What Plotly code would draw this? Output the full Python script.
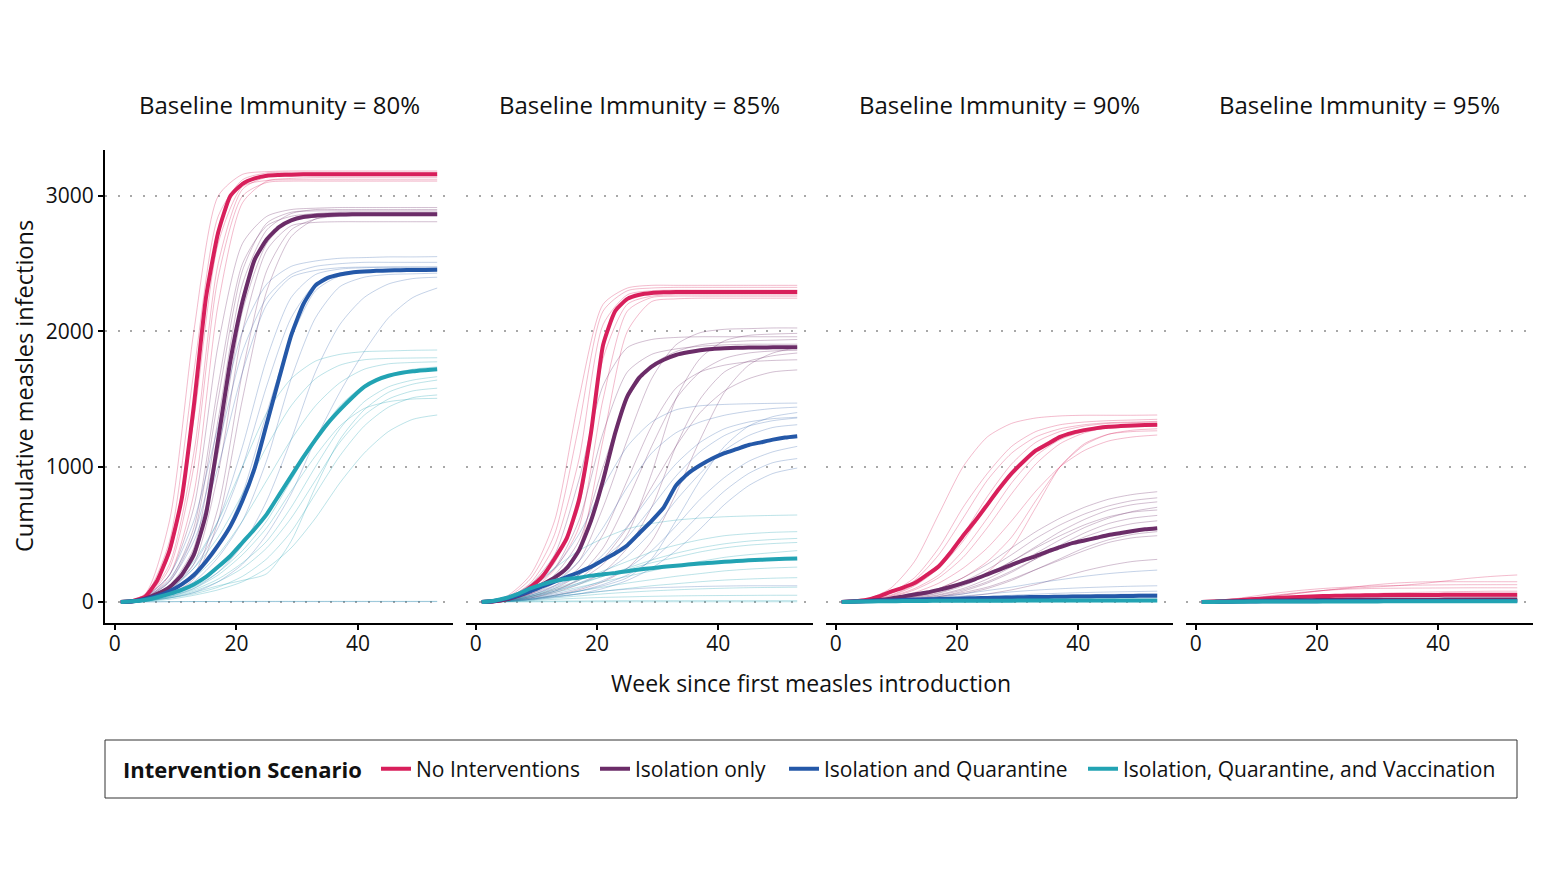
import plotly.graph_objects as go

# week grids (medians every 2 weeks, single runs every 4 weeks)
WEEKS_MED = list(range(1, 54, 2))
WEEKS_SIM = list(range(1, 54, 4))

PANELS = ["80%", "85%", "90%", "95%"]
SCENARIOS = ["No Interventions", "Isolation only", "Isolation and Quarantine",
             "Isolation, Quarantine, and Vaccination"]
COLORS = ["#D81F5B", "#6B2C68", "#2458A8", "#22A3B3"]
THIN = ["rgba(216,31,91,0.3)", "rgba(107,44,104,0.3)", "rgba(36,88,168,0.27)", "rgba(34,163,179,0.3)"]

# ---------- baseline immunity 80% ----------
med_80_none = [0, 8, 40, 160, 380, 760, 1450, 2250, 2730, 3000, 3090, 3130, 3150, 3155, 3158,
               3160, 3160, 3160, 3160, 3160, 3160, 3160, 3160, 3160, 3160, 3160, 3160]
med_80_iso = [0, 5, 25, 60, 110, 200, 350, 650, 1200, 1780, 2220, 2530, 2680, 2770, 2820, 2845,
              2855, 2860, 2863, 2865, 2865, 2865, 2865, 2865, 2865, 2865, 2865]
med_80_quar = [0, 5, 20, 45, 80, 130, 200, 300, 420, 560, 750, 990, 1320, 1650, 1970, 2200, 2340,
               2395, 2420, 2435, 2442, 2447, 2450, 2452, 2453, 2454, 2455]
med_80_vacc = [0, 5, 15, 35, 60, 90, 130, 185, 260, 340, 440, 540, 650, 790, 930, 1070, 1200, 1320,
               1420, 1510, 1590, 1640, 1672, 1692, 1705, 1713, 1720]

sims_80_none = [
    [0, 60, 600, 2000, 3000, 3160, 3180, 3185, 3185, 3185, 3185, 3185, 3185, 3185],
    [0, 30, 280, 1100, 2500, 3050, 3140, 3150, 3150, 3150, 3150, 3150, 3150, 3150],
    [0, 20, 200, 800, 2200, 2950, 3110, 3130, 3135, 3135, 3135, 3135, 3135, 3135],
    [0, 50, 450, 1700, 2850, 3120, 3170, 3175, 3175, 3175, 3175, 3175, 3175, 3175],
    [0, 35, 350, 1350, 2650, 3070, 3115, 3120, 3120, 3120, 3120, 3120, 3120, 3120],
    [0, 25, 250, 1000, 2400, 3000, 3100, 3110, 3110, 3110, 3110, 3110, 3110, 3110],
]
sims_80_iso = [
    [0, 40, 200, 700, 1900, 2650, 2850, 2900, 2910, 2915, 2915, 2915, 2915, 2915],
    [0, 30, 150, 500, 1500, 2450, 2800, 2880, 2890, 2890, 2890, 2890, 2890, 2890],
    [0, 20, 90, 280, 950, 2000, 2600, 2780, 2805, 2810, 2810, 2810, 2810, 2810],
    [0, 15, 70, 200, 700, 1700, 2450, 2750, 2830, 2850, 2855, 2855, 2855, 2855],
    [0, 35, 160, 550, 1600, 2500, 2780, 2850, 2870, 2870, 2870, 2870, 2870, 2870],
    [0, 20, 100, 320, 1100, 2150, 2650, 2830, 2870, 2880, 2880, 2880, 2880, 2880],
    [0, 25, 120, 400, 1350, 2350, 2750, 2870, 2900, 2900, 2900, 2900, 2900, 2900],
    [0, 10, 60, 170, 600, 1500, 2300, 2700, 2830, 2860, 2865, 2865, 2865, 2865],
]
sims_80_quar = [
    [0, 40, 200, 600, 1300, 2000, 2350, 2480, 2520, 2540, 2545, 2550, 2550, 2552],
    [0, 30, 150, 450, 1000, 1700, 2200, 2400, 2450, 2470, 2475, 2475, 2475, 2475],
    [0, 25, 100, 280, 600, 1150, 1800, 2250, 2420, 2460, 2470, 2475, 2475, 2475],
    [0, 15, 60, 150, 330, 600, 1050, 1650, 2100, 2330, 2400, 2420, 2425, 2430],
    [0, 10, 40, 100, 220, 420, 750, 1200, 1700, 2050, 2250, 2350, 2390, 2400],
    [0, 10, 30, 70, 150, 280, 500, 800, 1200, 1550, 1850, 2100, 2250, 2320],
    [0, 20, 90, 250, 550, 1000, 1600, 2100, 2350, 2430, 2450, 2460, 2460, 2460],
    [0, 35, 170, 500, 1150, 1850, 2250, 2420, 2480, 2500, 2510, 2510, 2510, 2510],
    [0, 20, 70, 180, 400, 800, 1400, 1950, 2300, 2410, 2440, 2450, 2450, 2450],
    [0, 1, 2, 3, 3, 3, 3, 3, 3, 3, 3, 3, 3, 3],
]
sims_80_vacc = [
    [0, 30, 120, 300, 600, 1000, 1400, 1650, 1780, 1830, 1850, 1855, 1860, 1862],
    [0, 25, 100, 250, 480, 800, 1150, 1450, 1650, 1750, 1790, 1800, 1803, 1805],
    [0, 20, 80, 180, 350, 600, 900, 1200, 1450, 1620, 1720, 1760, 1770, 1775],
    [0, 15, 50, 110, 220, 380, 600, 900, 1200, 1450, 1600, 1680, 1720, 1737],
    [0, 10, 40, 90, 170, 290, 450, 700, 1000, 1280, 1480, 1590, 1640, 1665],
    [0, 5, 30, 70, 120, 160, 210, 450, 850, 1200, 1420, 1550, 1610, 1640],
    [0, 10, 35, 80, 150, 250, 400, 620, 900, 1180, 1380, 1500, 1560, 1580],
    [0, 8, 30, 60, 110, 190, 320, 520, 800, 1080, 1300, 1440, 1510, 1530],
    [0, 5, 20, 50, 90, 150, 250, 400, 620, 880, 1100, 1260, 1350, 1382],
    [0, 12, 45, 100, 200, 350, 550, 820, 1080, 1300, 1430, 1480, 1500, 1505],
    [0, 2, 3, 4, 4, 5, 5, 5, 5, 5, 5, 5, 5, 5],
]

# ---------- baseline immunity 85% ----------
med_85_none = [0, 5, 20, 50, 110, 190, 320, 470, 750, 1250, 1900, 2150, 2240, 2270, 2283, 2288,
               2290, 2291, 2291, 2291, 2291, 2291, 2291, 2291, 2291, 2291, 2291]
med_85_iso = [0, 5, 20, 45, 80, 130, 180, 250, 380, 600, 900, 1250, 1520, 1660, 1740, 1790, 1825,
              1845, 1860, 1870, 1875, 1878, 1880, 1881, 1882, 1882, 1882]
med_85_quar = [0, 8, 25, 50, 80, 115, 150, 185, 220, 260, 310, 360, 420, 510, 600, 700, 860, 950,
               1010, 1060, 1100, 1130, 1160, 1180, 1200, 1215, 1225]
med_85_vacc = [0, 10, 30, 60, 100, 130, 155, 170, 180, 195, 205, 215, 228, 240, 250, 260, 268, 277,
               285, 290, 297, 303, 308, 312, 316, 319, 322]

sims_85_none = [
    [0, 40, 200, 600, 1500, 2200, 2320, 2340, 2340, 2340, 2340, 2340, 2340, 2340],
    [0, 25, 140, 420, 1050, 2050, 2270, 2300, 2305, 2305, 2305, 2305, 2305, 2305],
    [0, 15, 80, 240, 550, 1500, 2150, 2250, 2260, 2260, 2260, 2260, 2260, 2260],
    [0, 10, 60, 170, 400, 1200, 2000, 2220, 2240, 2245, 2245, 2245, 2245, 2245],
    [0, 30, 170, 500, 1300, 2150, 2300, 2320, 2325, 2325, 2325, 2325, 2325, 2325],
    [0, 20, 100, 290, 700, 1800, 2200, 2260, 2270, 2270, 2270, 2270, 2270, 2270],
]
sims_85_iso = [
    [0, 30, 130, 350, 900, 1600, 1880, 1940, 1955, 1960, 1960, 1960, 1960, 1960],
    [0, 15, 60, 140, 300, 700, 1200, 1650, 1900, 1990, 2015, 2020, 2025, 2025],
    [0, 25, 100, 250, 600, 1250, 1700, 1830, 1870, 1890, 1900, 1905, 1905, 1905],
    [0, 10, 40, 100, 200, 400, 750, 1150, 1500, 1700, 1800, 1840, 1855, 1860],
    [0, 10, 30, 70, 130, 220, 400, 700, 1150, 1500, 1700, 1780, 1820, 1840],
    [0, 8, 30, 80, 170, 320, 550, 850, 1150, 1400, 1560, 1650, 1700, 1715],
    [0, 15, 50, 120, 250, 500, 900, 1300, 1580, 1700, 1750, 1775, 1785, 1790],
    [0, 5, 20, 50, 90, 150, 250, 450, 800, 1200, 1550, 1750, 1840, 1880],
    [0, 20, 80, 200, 450, 1000, 1500, 1750, 1850, 1900, 1920, 1930, 1935, 1940],
    [0, 10, 40, 90, 160, 280, 500, 950, 1500, 1800, 1930, 1970, 1980, 1985],
]
sims_85_quar = [
    [0, 30, 110, 250, 500, 850, 1150, 1330, 1420, 1450, 1460, 1465, 1468, 1470],
    [0, 20, 70, 150, 300, 550, 850, 1100, 1250, 1330, 1380, 1410, 1430, 1440],
    [0, 15, 50, 110, 200, 350, 560, 800, 1020, 1180, 1280, 1330, 1355, 1365],
    [0, 10, 40, 80, 140, 220, 340, 520, 750, 950, 1120, 1230, 1290, 1310],
    [0, 10, 30, 60, 100, 160, 250, 380, 560, 760, 920, 1040, 1110, 1150],
    [0, 5, 20, 45, 80, 130, 200, 310, 470, 650, 820, 950, 1030, 1060],
    [0, 5, 15, 35, 60, 100, 160, 250, 380, 540, 720, 860, 950, 990],
    [0, 20, 60, 120, 200, 320, 480, 700, 930, 1110, 1230, 1300, 1340, 1360],
    [0, 8, 25, 50, 80, 120, 180, 320, 600, 900, 1150, 1300, 1370, 1400],
    [0, 5, 20, 40, 60, 80, 95, 105, 110, 115, 118, 120, 120, 120],
]
sims_85_vacc = [
    [0, 30, 120, 250, 380, 470, 540, 580, 605, 620, 630, 636, 640, 643],
    [0, 15, 50, 100, 160, 230, 300, 370, 420, 460, 490, 505, 515, 520],
    [0, 10, 40, 80, 130, 190, 250, 310, 360, 400, 430, 450, 462, 470],
    [0, 12, 45, 90, 140, 190, 240, 290, 330, 370, 400, 420, 432, 440],
    [0, 10, 35, 70, 110, 150, 190, 230, 270, 300, 330, 350, 365, 380],
    [0, 8, 25, 50, 80, 110, 140, 165, 190, 210, 230, 243, 252, 258],
    [0, 5, 20, 40, 60, 80, 100, 120, 135, 150, 162, 170, 176, 180],
    [0, 5, 15, 30, 45, 60, 72, 82, 90, 97, 102, 106, 108, 110],
    [0, 3, 10, 20, 28, 34, 38, 42, 45, 47, 48, 49, 50, 50],
    [0, 2, 5, 7, 8, 9, 10, 10, 10, 10, 10, 10, 10, 10],
    [0, 1, 1, 2, 2, 2, 2, 2, 2, 2, 2, 2, 2, 2],
]

# ---------- baseline immunity 90% ----------
med_90_none = [0, 5, 15, 40, 75, 105, 140, 200, 265, 370, 490, 600, 720, 840, 950, 1040, 1120,
               1170, 1220, 1250, 1270, 1285, 1295, 1300, 1305, 1308, 1310]
med_90_iso = [0, 3, 8, 15, 25, 40, 55, 70, 90, 113, 140, 170, 205, 240, 275, 310, 340, 375, 405,
              435, 455, 475, 495, 510, 525, 537, 545]
med_90_quar = [0, 3, 6, 9, 12, 15, 18, 20, 22, 24, 26, 28, 30, 32, 34, 36, 37, 38, 39, 40, 41, 42,
               43, 44, 45, 46, 46]
med_90_vacc = [0, 2, 4, 5, 6, 7, 8, 8, 9, 9, 10, 10, 10, 10, 10, 11, 11, 11, 11, 11, 11, 12, 12,
               12, 12, 12, 12]

sims_90_none = [
    [0, 20, 100, 300, 650, 1000, 1220, 1320, 1360, 1375, 1380, 1380, 1380, 1382],
    [0, 15, 70, 180, 400, 700, 950, 1150, 1260, 1310, 1330, 1340, 1345, 1350],
    [0, 12, 50, 130, 280, 500, 780, 1020, 1180, 1260, 1300, 1320, 1325, 1330],
    [0, 10, 40, 100, 200, 380, 620, 880, 1080, 1200, 1260, 1285, 1295, 1300],
    [0, 5, 20, 50, 100, 180, 300, 480, 750, 1000, 1160, 1240, 1270, 1280],
    [0, 5, 15, 40, 80, 130, 220, 400, 700, 1000, 1170, 1240, 1260, 1265],
    [0, 8, 30, 70, 140, 250, 400, 600, 820, 1000, 1120, 1190, 1220, 1234],
    [0, 15, 60, 160, 350, 620, 900, 1100, 1220, 1280, 1310, 1325, 1330, 1335],
    [0, 10, 35, 90, 180, 330, 550, 800, 1020, 1170, 1250, 1290, 1305, 1310],
    [0, 12, 45, 120, 250, 450, 720, 960, 1130, 1230, 1280, 1300, 1310, 1315],
]
sims_90_iso = [
    [0, 5, 20, 50, 100, 180, 280, 400, 520, 620, 700, 760, 795, 815],
    [0, 5, 15, 40, 80, 150, 240, 350, 470, 570, 650, 710, 750, 770],
    [0, 4, 12, 30, 65, 120, 200, 300, 410, 520, 610, 680, 720, 740],
    [0, 3, 10, 25, 55, 100, 170, 260, 360, 460, 550, 620, 670, 700],
    [0, 5, 15, 35, 70, 130, 210, 300, 400, 490, 570, 630, 665, 680],
    [0, 3, 8, 20, 40, 80, 140, 220, 320, 420, 510, 580, 620, 640],
    [0, 3, 10, 25, 50, 90, 150, 230, 320, 400, 480, 540, 580, 600],
    [0, 2, 8, 18, 35, 60, 100, 160, 240, 320, 400, 460, 500, 520],
    [0, 3, 10, 22, 40, 70, 110, 170, 240, 310, 380, 440, 475, 490],
    [0, 2, 6, 14, 25, 40, 60, 90, 130, 180, 230, 270, 300, 315],
]
sims_90_quar = [
    [0, 4, 12, 25, 40, 60, 85, 110, 140, 165, 190, 210, 225, 236],
    [0, 3, 10, 20, 30, 45, 60, 75, 88, 98, 106, 112, 117, 120],
    [0, 2, 6, 12, 20, 30, 40, 50, 58, 65, 70, 74, 77, 80],
    [0, 2, 5, 10, 15, 22, 30, 38, 45, 50, 54, 57, 59, 60],
    [0, 1, 3, 5, 6, 7, 8, 9, 10, 10, 10, 10, 10, 10],
]
sims_90_vacc = [
    [0, 2, 5, 8, 10, 12, 14, 15, 16, 17, 18, 19, 20, 20],
    [0, 1, 1, 2, 2, 2, 2, 2, 2, 2, 2, 2, 2, 2],
]

# ---------- baseline immunity 95% ----------
med_95_none = [0, 3, 8, 14, 20, 25, 30, 34, 38, 41, 44, 46, 48, 49, 50, 51, 51, 52, 52, 52, 53, 53,
               53, 53, 53, 53, 53]
med_95_iso = [0, 2, 4, 6, 8, 10, 11, 12, 13, 14, 15, 15, 16, 16, 16, 17, 17, 17, 17, 17, 18, 18,
              18, 18, 18, 18, 18]
med_95_quar = [0, 1, 2, 3, 4, 5, 5, 6, 6, 6, 7, 7, 7, 7, 7, 8, 8, 8, 8, 8, 8, 8, 8, 8, 8, 8, 8]
med_95_vacc = [0, 1, 2, 2, 3, 3, 3, 4, 4, 4, 4, 4, 4, 4, 4, 5, 5, 5, 5, 5, 5, 5, 5, 5, 5, 5, 5]

sims_95_none = [
    [0, 10, 25, 45, 65, 85, 100, 110, 120, 135, 155, 175, 190, 200],
    [0, 15, 40, 65, 85, 100, 110, 118, 122, 125, 127, 128, 128, 128],
    [0, 8, 25, 45, 65, 85, 105, 125, 140, 148, 150, 150, 150, 150],
    [0, 10, 30, 50, 70, 85, 95, 100, 102, 103, 104, 105, 105, 105],
    [0, 5, 15, 25, 35, 45, 55, 62, 68, 72, 75, 78, 80, 80],
    [0, 3, 8, 12, 15, 17, 18, 18, 18, 18, 18, 18, 18, 18],
]
sims_95_iso = [
    [0, 3, 8, 12, 15, 18, 20, 22, 24, 25, 26, 27, 28, 28],
    [0, 5, 12, 18, 24, 28, 31, 34, 36, 38, 39, 40, 40, 40],
    [0, 1, 2, 3, 4, 5, 5, 5, 5, 5, 5, 5, 5, 5],
]
sims_95_quar = [
    [0, 2, 5, 8, 10, 12, 13, 14, 15, 15, 15, 15, 15, 15],
    [0, 1, 2, 2, 3, 3, 3, 3, 3, 3, 3, 3, 3, 3],
]
sims_95_vacc = [
    [0, 1, 2, 3, 4, 5, 5, 6, 6, 6, 6, 6, 6, 6],
]

MEDIANS = [
    [med_80_none, med_80_iso, med_80_quar, med_80_vacc],
    [med_85_none, med_85_iso, med_85_quar, med_85_vacc],
    [med_90_none, med_90_iso, med_90_quar, med_90_vacc],
    [med_95_none, med_95_iso, med_95_quar, med_95_vacc],
]
SIMS = [
    [sims_80_none, sims_80_iso, sims_80_quar, sims_80_vacc],
    [sims_85_none, sims_85_iso, sims_85_quar, sims_85_vacc],
    [sims_90_none, sims_90_iso, sims_90_quar, sims_90_vacc],
    [sims_95_none, sims_95_iso, sims_95_quar, sims_95_vacc],
]

FONT = "'Open Sans', 'Noto Sans', sans-serif"
TXT = "#111111"
# page body has an 8px margin, so the figure is drawn 8px in from the window corner
OFF = 8
W, H = 1547 - 2 * OFF, 871 - 2 * OFF


def px(x):
    return (x - OFF) / W


def py(y):
    return 1 - (y - OFF) / H


x_doms = [(105, 453), (466, 813), (826, 1173), (1186, 1533)]
y_dom = [py(623), py(150)]
LEGEND_IDS = ["legend", "legend2", "legend3", "legend4"]
legend_swatch_x = [381, 600, 789, 1088]

fig = go.Figure()
for p in range(4):
    ax = "" if p == 0 else str(p + 1)
    for s in range(4):
        for run in SIMS[p][s]:
            fig.add_trace(go.Scatter(x=WEEKS_SIM, y=run, mode="lines",
                                     line=dict(color=THIN[s], width=1, shape="spline", smoothing=0.7),
                                     showlegend=False, hoverinfo="skip",
                                     xaxis="x" + ax, yaxis="y" + ax))
    for s in range(4):
        fig.add_trace(go.Scatter(x=WEEKS_MED, y=MEDIANS[p][s], mode="lines", name=SCENARIOS[s],
                                 line=dict(color=COLORS[s], width=4, shape="spline", smoothing=0.5),
                                 legendgroup=SCENARIOS[s], showlegend=(p == 0),
                                 legend=LEGEND_IDS[s],
                                 xaxis="x" + ax, yaxis="y" + ax))

layout = dict(
    width=W, height=H,
    margin=dict(l=0, r=0, t=0, b=0),
    paper_bgcolor="white", plot_bgcolor="white",
    font=dict(family=FONT, color=TXT, size=19),
    annotations=[],
    shapes=[dict(type="rect", xref="paper", yref="paper",
                 x0=px(105), x1=px(1517), y0=py(798), y1=py(740),
                 line=dict(color="#333333", width=1), fillcolor="rgba(0,0,0,0)")],
)
# one legend per scenario so each entry sits where it does in the original
for s in range(4):
    layout[LEGEND_IDS[s]] = dict(
        orientation="h", x=px(legend_swatch_x[s] - 5), y=py(769), xanchor="left", yanchor="middle",
        borderwidth=0, bgcolor="rgba(0,0,0,0)", font=dict(size=21, color=TXT), itemwidth=30)

for p in range(4):
    ax = "" if p == 0 else str(p + 1)
    x0, x1 = x_doms[p]
    layout["xaxis" + ax] = dict(
        domain=[px(x0), px(x1)], range=[-1.6, 55.6], anchor="y" + ax,
        tickvals=[0, 20, 40], ticks="outside", ticklen=5, tickwidth=1.5, tickcolor="black",
        showline=True, linecolor="black", linewidth=2, showgrid=False, zeroline=False,
        tickfont=dict(size=21, color=TXT), ticklabelstandoff=-4)
    layout["yaxis" + ax] = dict(
        domain=y_dom, range=[-155, 3340], anchor="x" + ax,
        tickvals=[0, 1000, 2000, 3000], showgrid=True, gridcolor="#A8A8A8", gridwidth=2,
        griddash="2px,10.5px", zeroline=False,
        showline=(p == 0), linecolor="black", linewidth=2,
        ticks="outside" if p == 0 else "", ticklen=5, tickwidth=1.5, tickcolor="black",
        showticklabels=(p == 0), tickfont=dict(size=21, color=TXT))
    layout["annotations"].append(dict(
        text="Baseline Immunity = " + PANELS[p], x=px((x0 + x1) / 2), y=py(105),
        xanchor="center", yanchor="middle",
        xref="paper", yref="paper", showarrow=False, font=dict(size=24, color=TXT)))

layout["annotations"].append(dict(
    text="Week since first measles introduction", x=px(811), y=py(683),
    xanchor="center", yanchor="middle",
    xref="paper", yref="paper", showarrow=False, font=dict(size=23, color=TXT)))
layout["annotations"].append(dict(
    text="Cumulative measles infections", x=px(24), y=py(386), textangle=-90,
    xanchor="center", yanchor="middle",
    xref="paper", yref="paper", showarrow=False, font=dict(size=23.5, color=TXT)))
layout["annotations"].append(dict(
    text="<b>Intervention Scenario</b>", x=px(121), y=py(769),
    xanchor="left", yanchor="middle",
    xref="paper", yref="paper", showarrow=False, font=dict(size=22, color=TXT)))

fig.update_layout(layout)
fig.write_html("out.html")
